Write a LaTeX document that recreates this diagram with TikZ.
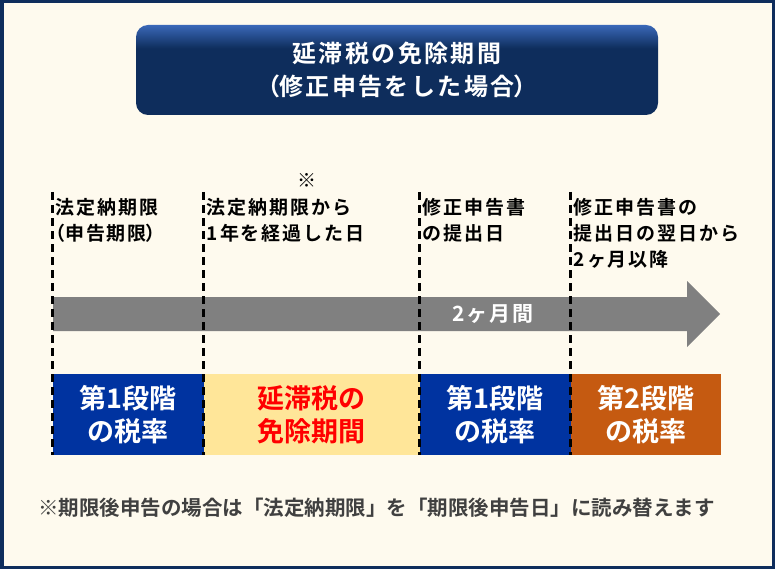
\documentclass[tikz,border=0pt]{standalone}
\usepackage{fontspec}
\setmainfont{Noto Sans CJK JP Bold}
\usetikzlibrary{positioning}

\definecolor{framenavy}{HTML}{0E2D5C}
\definecolor{titletop}{HTML}{3A68B8}
\definecolor{paper}{HTML}{FEFAEE}
\definecolor{rateblue}{HTML}{0033A0}
\definecolor{freeyellow}{HTML}{FFE699}
\definecolor{rateorange}{HTML}{C55A11}
\definecolor{arrowgray}{HTML}{808080}
\definecolor{notegray}{HTML}{404040}

\pgfdeclareverticalshading{titleshade}{100bp}{color(0bp)=(framenavy); color(62bp)=(framenavy); color(75bp)=(titletop); color(100bp)=(titletop)}

\newcommand{\halfparen}[1]{{\addfontfeature{RawFeature=+palt}#1}}

\begin{document}
\begin{tikzpicture}[x=1pt, y=-1pt, thick,
  stage/.style={minimum width=#1, minimum height=81pt, inner sep=0pt, outer sep=0pt,
    text=white, align=center, font=\fontsize{27}{33}\selectfont},
  datelabel/.style={anchor=north west, inner sep=0pt, align=left,
    font=\fontsize{19}{26}\selectfont\addfontfeature{LetterSpace=10}},
  cutline/.style={line width=3pt, dash pattern=on 8pt off 5pt}]

  % Frame
  \fill[framenavy] (0,0) rectangle (775,569);
  \fill[paper] (3.5,3.5) rectangle (771.5,565.5);

  % Title
  \node[shading=titleshade, rounded corners=12pt, minimum width=522pt, minimum height=90pt,
    text=white, align=center, font=\fontsize{24}{33}\selectfont\addfontfeature{LetterSpace=10}]
    (title) at (397,70) {延滞税の免除期間\\\halfparen{（}修正申告をした場合\halfparen{）}};

  % Period arrow
  \fill[arrowgray] (53,297) -- (687,297) -- (687,281) -- (720,314) -- (687,347)
    -- (687,331) -- (53,331) -- cycle;
  \node[text=white, font=\fontsize{21}{25}\selectfont\addfontfeature{LetterSpace=8}]
    (span) at (493,314) {2ヶ月間};

  % Stages
  \node[stage=151pt, fill=rateblue, anchor=north west] (first) at (52.7,374) {第1段階\\の税率};
  \node[stage=216pt, fill=freeyellow, text=red, right=0pt of first] (free) {延滞税の\\免除期間};
  \node[stage=151pt, fill=rateblue, right=0pt of free] (firstagain) {第1段階\\の税率};
  \node[stage=150pt, fill=rateorange, right=0pt of firstagain] (second) {第2段階\\の税率};

  % Date lines
  \coordinate (d1) at (52.7,192);
  \coordinate (d2) at (203.5,192);
  \coordinate (d3) at (419.5,192);
  \coordinate (d4) at (570.5,192);
  \draw[cutline] (d1) -- (d1 |- first.south);
  \draw[cutline] (d2) -- (d2 |- free.south);
  \draw[cutline] (d3) -- (d3 |- firstagain.south);
  \draw[cutline] (d4) -- (d4 |- second.south);

  % Date labels
  \node[datelabel] (deadline) at ([xshift=2.5pt, yshift=-5.5pt]d1)
    {法定納期限\\\halfparen{（}申告期限\halfparen{）}};
  \node[datelabel] (oneyear) at ([xshift=3pt, yshift=-5.5pt]d2) {法定納期限から\\1年を経過した日};
  \node[datelabel] (filed) at ([xshift=3pt, yshift=-5.5pt]d3) {修正申告書\\の提出日};
  \node[datelabel] (twomonths) at ([xshift=3pt, yshift=-5.5pt]d4) {修正申告書の\\提出日の翌日から\\2ヶ月以降};
  \node[font=\fontsize{19}{22}\selectfont] (star) at (307,180) {※};

  % Note
  \node[text=notegray, font=\fontsize{20.5}{25}\selectfont] (note) at (376.5,508)
    {※期限後申告の場合は「法定納期限」を「期限後申告日」に読み替えます};

\end{tikzpicture}
\end{document}
